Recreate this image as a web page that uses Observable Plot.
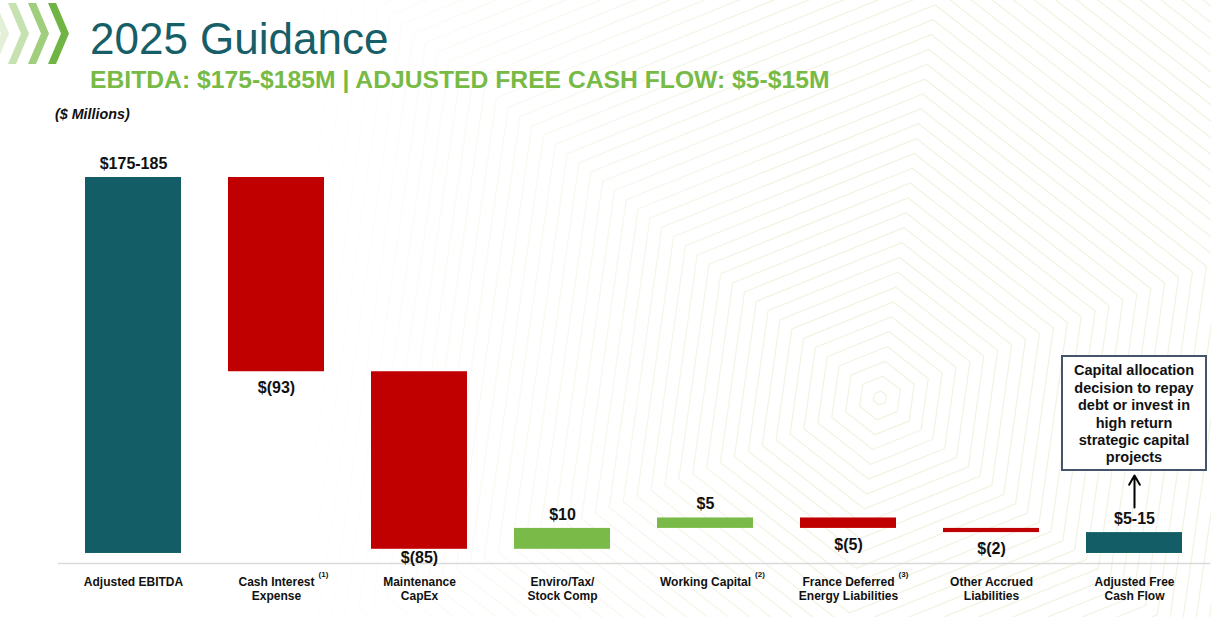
<!DOCTYPE html>
<html>
<head>
<meta charset="utf-8">
<script src="https://cdn.jsdelivr.net/npm/d3@7"></script>
<script src="https://cdn.jsdelivr.net/npm/@observablehq/plot@0.6"></script>
<style>
  html, body { margin: 0; padding: 0; background: #fff; }
  #wrap { position: relative; width: 1211px; height: 617px; overflow: hidden; font-family: "Liberation Sans", Arial, sans-serif; }
  #bg { position: absolute; left: 0; top: 0; }
  #header { position: relative; height: 130px; }
  .t { position: absolute; white-space: nowrap; line-height: 1; }
  #title { left: 90px; top: 17px; font-size: 44px; color: #165e68; }
  #subtitle { left: 90px; top: 68px; font-size: 24.7px; font-weight: bold; color: #77ba45; }
  #units { left: 55px; top: 107px; font-size: 14.3px; font-weight: bold; font-style: italic; color: #111; }
  #logo { position: absolute; left: 0; top: 0; }
  #chart { position: relative; }
  #note { position: absolute; left: 1061px; top: 355px; width: 142px; padding: 5.3px 0 2px 0; border: 2px solid #44546a; background: #fff;
          font-size: 14.5px; font-weight: bold; line-height: 17.4px; text-align: center; color: #111; }
</style>
</head>
<body>
<div id="wrap">
  <svg id="bg" width="1211" height="617"></svg>
  <div id="header">
    <svg id="logo" width="75" height="68"></svg>
    <div class="t" id="title">2025 Guidance</div>
    <div class="t" id="subtitle">EBITDA: $175-$185M | ADJUSTED FREE CASH FLOW: $5-$15M</div>
    <div class="t" id="units">($ Millions)</div>
  </div>
  <div id="chart"></div>
  <div id="note">Capital allocation<br>decision to repay<br>debt or invest in<br>high return<br>strategic capital<br>projects</div>
</div>
<script>
// ---- data ----
const categories = ["Adjusted EBITDA", "Cash Interest Expense", "Maintenance CapEx", "Enviro/Tax/Stock Comp",
  "Working Capital", "France Deferred Energy Liabilities", "Other Accrued Liabilities", "Adjusted Free Cash Flow"];
const tickLabels = ["Adjusted EBITDA", "Cash Interest\nExpense", "Maintenance\nCapEx", "Enviro/Tax/\nStock Comp",
  "Working Capital", "France Deferred\nEnergy Liabilities", "Other Accrued\nLiabilities", "Adjusted Free\nCash Flow"];
const footnotes = ["", "(1)", "", "", "(2)", "(3)", "", ""];
const values = [180, -93, -85, 10, 5, -5, -2, 10];
const valueLabels = ["$175-185", "$(93)", "$(85)", "$10", "$5", "$(5)", "$(2)", "$5-15"];
const barKinds = ["total", "decrease", "decrease", "increase", "increase", "decrease", "decrease", "total"];

// ---- waterfall rows ----
let running = 0;
const rows = categories.map((cat, i) => {
  let lo, hi;
  if (barKinds[i] === "total") { lo = 0; hi = values[i]; running = values[i]; }
  else { const prev = running; running += values[i]; lo = Math.min(prev, running); hi = Math.max(prev, running); }
  return {cat, tick: tickLabels[i], note: footnotes[i], label: valueLabels[i], kind: barKinds[i], value: values[i], lo, hi};
});

const FONT = '"Liberation Sans", Arial, sans-serif';
const ctx = document.createElement("canvas").getContext("2d");
ctx.font = 'bold 12px "Liberation Sans", Arial, sans-serif';
const lineWidth = s => ctx.measureText(s.split("\n")[0]).width;

const above = rows.filter(d => d.value >= 0);
const below = rows.filter(d => d.value < 0);
const last = rows[rows.length - 1];

const plot = Plot.plot({
  width: 1211,
  height: 487,
  marginTop: 0,
  marginBottom: 54,
  marginLeft: 58,
  marginRight: 2,
  style: {background: "transparent", fontFamily: FONT, overflow: "visible", color: "#111"},
  x: {domain: categories, paddingInner: 0.33, paddingOuter: 0.1815, axis: null},
  y: {domain: [-4.8, 202.5], axis: null},
  color: {domain: ["total", "decrease", "increase"], range: ["#135e66", "#c00000", "#7aba48"]},
  marks: [
    Plot.frame({anchor: "bottom", stroke: "#dadada", strokeWidth: 1.5}),
    Plot.barY(rows, {x: "cat", y1: "lo", y2: "hi", fill: "kind"}),
    Plot.text(above, {x: "cat", y: "hi", text: "label", dy: -14, fontSize: 16, fontWeight: "bold", fill: "#111"}),
    Plot.text(below, {x: "cat", y: d => Math.max(d.lo - 7.66, -1.9), text: "label", fontSize: 16, fontWeight: "bold", fill: "#111"}),
    Plot.text(rows, {x: "cat", text: "tick", frameAnchor: "bottom", lineAnchor: "top", dy: 12.8,
      fontSize: 12, fontWeight: "bold", lineHeight: 1.17, fill: "#111"}),
    ...rows.filter(d => d.note).map(d =>
      Plot.text([d], {x: "cat", text: "note", frameAnchor: "bottom", dy: 13.5, dx: lineWidth(d.tick) / 2 + 4,
        textAnchor: "start", fontSize: 8, fontWeight: "bold", fill: "#111"})),
    Plot.arrow([last], {x1: "cat", x2: "cat", y1: d => d.hi + 12, y2: d => d.hi + 27.3,
      stroke: "#000", strokeWidth: 2, headLength: 8})
  ]
});
document.getElementById("chart").appendChild(plot);

// ---- decorative logo chevrons ----
const logo = d3.select("#logo");
const chevColors = ["#70b543", "#9fce7c", "#c6e2b0", "#e3f0d7"];
chevColors.forEach((c, j) => {
  const o = -20 * j;
  logo.append("polygon")
    .attr("points", [[48 + o, 3], [56 + o, 3], [69 + o, 33.5], [56 + o, 64], [48 + o, 64], [61 + o, 33.5]].map(p => p.join(",")).join(" "))
    .attr("fill", c);
});

// ---- decorative background hexagon rings ----
const bg = d3.select("#bg");
const defs = bg.append("defs");
const grad = defs.append("linearGradient").attr("id", "fade").attr("gradientUnits", "userSpaceOnUse")
  .attr("x1", 250).attr("y1", 0).attr("x2", 800).attr("y2", 0);
grad.append("stop").attr("offset", 0).attr("stop-color", "#fff").attr("stop-opacity", 0);
grad.append("stop").attr("offset", 1).attr("stop-color", "#fff").attr("stop-opacity", 1);
defs.append("mask").attr("id", "m").append("rect").attr("width", 1211).attr("height", 617).attr("fill", "url(#fade)");
const g = bg.append("g").attr("mask", "url(#m)").attr("fill", "none").attr("stroke", "#f3f3e4").attr("stroke-width", 1.3)
  .attr("stroke-linejoin", "round");
const cx = 880, cy = 398, rot = 8 * Math.PI / 180;
for (let i = 0; i < 60; i++) {
  const r = 7 + 15 * i;
  const pts = d3.range(6).map(j => {
    const a = -Math.PI / 2 + rot + j * Math.PI / 3;
    return [cx + r * Math.cos(a), cy + r * Math.sin(a)];
  });
  g.append("polygon").attr("points", pts.map(p => p.join(",")).join(" "));
}
</script>
</body>
</html>
